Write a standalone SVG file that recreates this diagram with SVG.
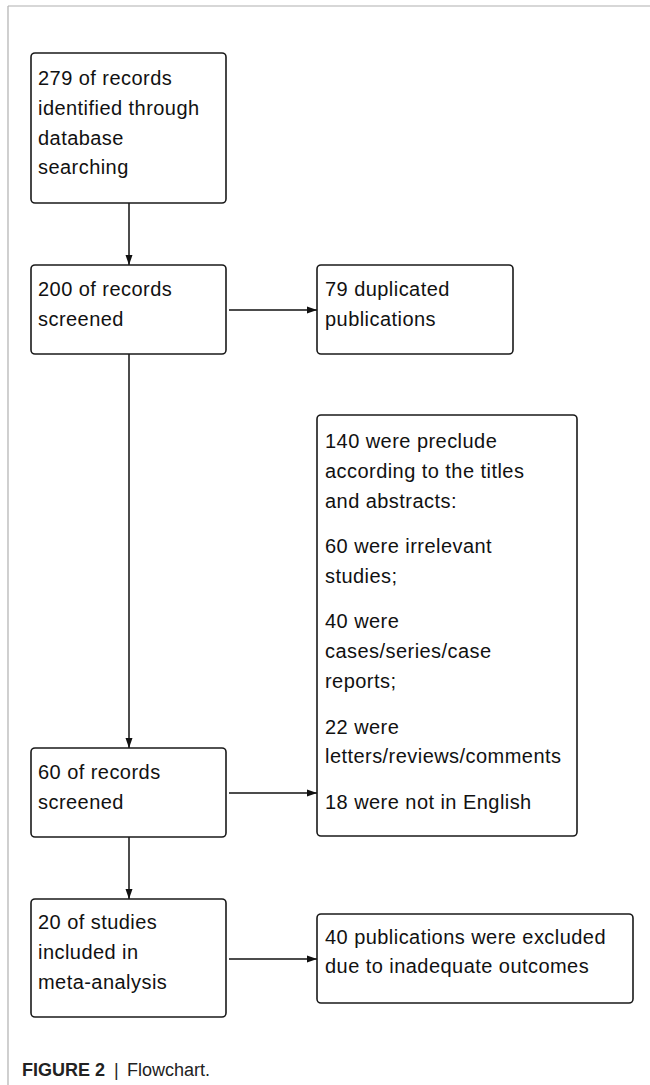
<svg xmlns="http://www.w3.org/2000/svg" width="650" height="1085" viewBox="0 0 650 1085">
<style>
.box{fill:#fff;stroke:#1a1a1a;stroke-width:1.6}
.t{font-family:"Liberation Sans",Arial,sans-serif;font-size:20px;fill:#111;letter-spacing:0.45px}
.c{stroke:#111;stroke-width:1.5;fill:none}
.cap{font-family:"Liberation Sans",Arial,sans-serif;font-size:18px;fill:#222}
</style>
<defs>
<marker id="ah" viewBox="0 0 10 8" refX="10" refY="4" markerWidth="10" markerHeight="8" markerUnits="userSpaceOnUse" orient="auto">
<path d="M0,0.5 L10,4 L0,7.5 Z" fill="#111"/>
</marker>
</defs>
<line x1="8" y1="6" x2="650" y2="6" stroke="#b0b0b0" stroke-width="1.2"/>
<line x1="8" y1="6" x2="8" y2="1085" stroke="#b0b0b0" stroke-width="1.2"/>
<g id="connectors">
<line class="c" x1="129" y1="203" x2="129" y2="265" marker-end="url(#ah)"/>
<line class="c" x1="229" y1="310" x2="317" y2="310" marker-end="url(#ah)"/>
<line class="c" x1="129" y1="354" x2="129" y2="748" marker-end="url(#ah)"/>
<line class="c" x1="229" y1="793" x2="317" y2="793" marker-end="url(#ah)"/>
<line class="c" x1="129" y1="837" x2="129" y2="899" marker-end="url(#ah)"/>
<line class="c" x1="229" y1="959" x2="317" y2="959" marker-end="url(#ah)"/>
</g>
<g id="n1"><rect class="box" x="31" y="53" width="195" height="150" rx="4"/>
<text class="t"><tspan x="38" y="85">279 of records</tspan><tspan x="38" y="115">identified through</tspan><tspan x="38" y="145">database</tspan><tspan x="38" y="174">searching</tspan></text></g>
<g id="n2"><rect class="box" x="31" y="265" width="195" height="89" rx="4"/>
<text class="t"><tspan x="38" y="296">200 of records</tspan><tspan x="38" y="326">screened</tspan></text></g>
<g id="n3"><rect class="box" x="317" y="265" width="196" height="89" rx="4"/>
<text class="t"><tspan x="325" y="296">79 duplicated</tspan><tspan x="325" y="326">publications</tspan></text></g>
<g id="n4"><rect class="box" x="317" y="415" width="260" height="421" rx="4"/>
<text class="t"><tspan x="325" y="448">140 were preclude</tspan><tspan x="325" y="478">according to the titles</tspan><tspan x="325" y="508">and abstracts:</tspan><tspan x="325" y="553">60 were irrelevant</tspan><tspan x="325" y="583">studies;</tspan><tspan x="325" y="628">40 were</tspan><tspan x="325" y="658">cases/series/case</tspan><tspan x="325" y="688">reports;</tspan><tspan x="325" y="734">22 were</tspan><tspan x="325" y="763">letters/reviews/comments</tspan><tspan x="325" y="809">18 were not in English</tspan></text></g>
<g id="n5"><rect class="box" x="31" y="748" width="195" height="89" rx="4"/>
<text class="t"><tspan x="38" y="779">60 of records</tspan><tspan x="38" y="809">screened</tspan></text></g>
<g id="n6"><rect class="box" x="31" y="899" width="195" height="118" rx="4"/>
<text class="t"><tspan x="38" y="929">20 of studies</tspan><tspan x="38" y="959">included in</tspan><tspan x="38" y="989">meta-analysis</tspan></text></g>
<g id="n7"><rect class="box" x="317" y="914" width="316" height="89" rx="4"/>
<text class="t"><tspan x="325" y="944">40 publications were excluded</tspan><tspan x="325" y="973">due to inadequate outcomes</tspan></text></g>
<text class="cap" x="22" y="1076" font-weight="bold">FIGURE 2</text>
<text class="cap" x="114" y="1076" fill="#777" font-weight="normal">|</text>
<text class="cap" x="127" y="1076">Flowchart.</text>
</svg>
